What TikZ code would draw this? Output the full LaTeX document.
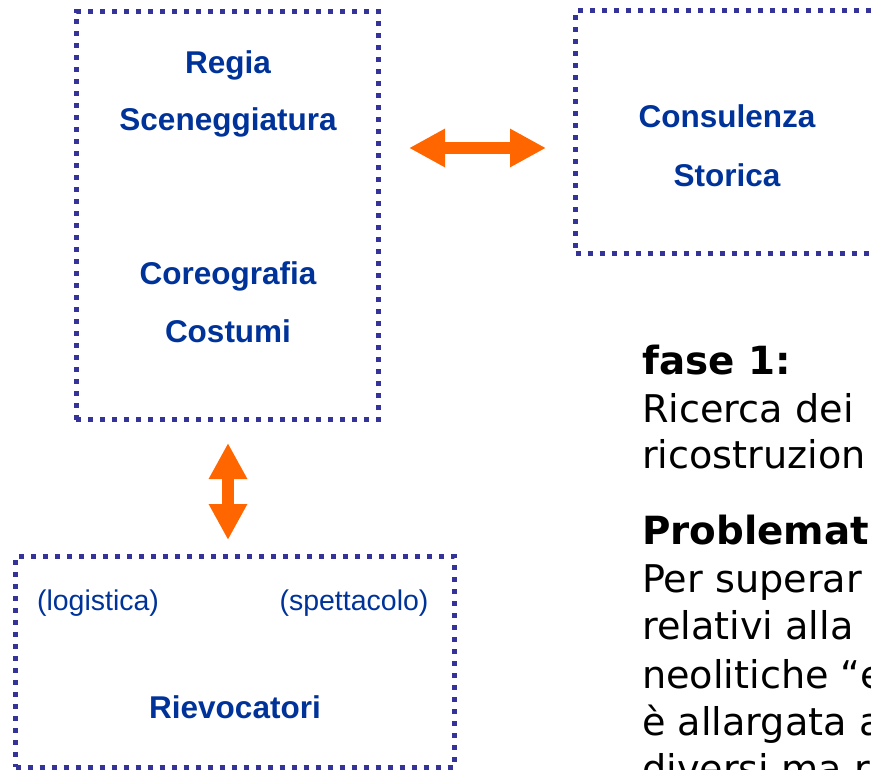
\documentclass[tikz,border=0pt]{standalone}
\usepackage{fontspec}
\setmainfont{Liberation Sans}
\newfontfamily\verd{DejaVu Sans}
\usetikzlibrary{arrows.meta}
\definecolor{txtblue}{HTML}{003399}
\definecolor{dotblue}{HTML}{333399}
\definecolor{arrorange}{HTML}{FF6600}
\begin{document}
\begin{tikzpicture}[x=1pt,y=-1pt,
  dotbox/.style={draw=dotblue, line width=5pt, dash pattern=on 5pt off 7pt, rectangle, inner sep=0pt, outer sep=0pt},
  btext/.style={text=txtblue, font=\fontsize{31.5}{36}\selectfont\bfseries, anchor=base, inner sep=0pt},
  rtext/.style={text=txtblue, font=\fontsize{28.5}{33}\selectfont, anchor=base, inner sep=0pt},
  body/.style={font=\verd\fontsize{38.2}{45}\selectfont, anchor=base west, inner sep=0pt},
  bodyb/.style={body, font=\verd\fontsize{38.8}{45}\selectfont\bfseries},
  bigarrow/.style={draw=arrorange, line width=12pt, {Triangle[length=36pt,width=36pt]}-{Triangle[length=36pt,width=36pt]}}
]
\useasboundingbox (0,0) rectangle (871,770);
\clip (0,0) rectangle (871,770);
\fill[white] (0,0) rectangle (871,770);
% boxes
\node[dotbox, minimum width=302.5pt, minimum height=407.8pt] (box1) at (227.25,215.6) {};
\node[dotbox, minimum width=524.5pt, minimum height=242.5pt] (box2) at (837.75,132.25) {};
\node[dotbox, minimum width=438.5pt, minimum height=211pt] (box3) at (234.75,661.5) {};
% texts in boxes
\node[btext] (regia) at (228,74) {Regia};
\node[btext] (scen) at (228,131) {Sceneggiatura};
\node[btext] (coreo) at (228,285) {Coreografia};
\node[btext] (cost) at (228,343) {Costumi};
\node[btext] (cons) at (727,128) {Consulenza};
\node[btext] (stor) at (727,187) {Storica};
\node[rtext] (logi) at (98,610) {(logistica)};
\node[rtext] (spet) at (354,610) {(spettacolo)};
\node[btext] (riev) at (235,718) {Rievocatori};
% arrows
\draw[bigarrow, shorten <=30.5pt, shorten >=29.5pt] (box1.east |- 0,148) -- (box2.west |- 0,148);
\draw[bigarrow, shorten <=23.5pt, shorten >=16pt] (box1.south -| 228,0) -- (box3.north -| 228,0);
% right text
\node[bodyb] (t1) at (642,374) {fase 1:};
\node[body] (t2) at (642,422) {Ricerca dei};
\node[body] (t3) at (642,468) {ricostruzion};
\node[bodyb] (t4) at (642,544) {Problemat};
\node[body] (t5) at (642,592) {Per superar};
\node[body] (t6) at (642,639) {relativi alla};
\node[body] (t7) at (642,688) {neolitiche “e};
\node[body] (t8) at (642,735) {è allargata a};
\node[body] (t9) at (642,782) {diversi ma r};
\end{tikzpicture}
\end{document}
